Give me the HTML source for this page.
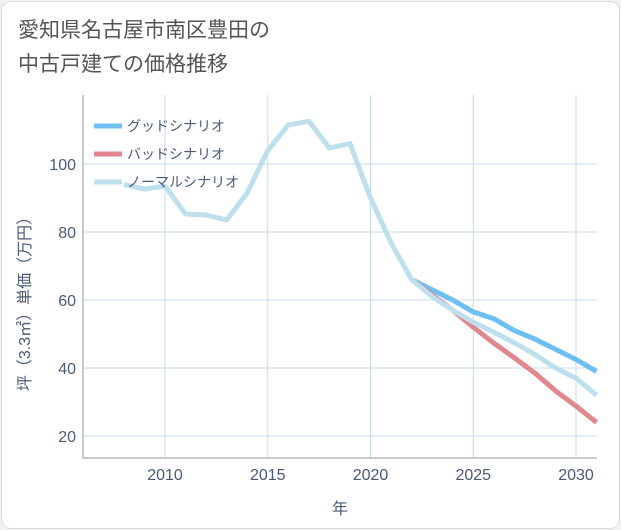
<!DOCTYPE html>
<html><head><meta charset="utf-8"><style>
html,body{margin:0;padding:0;background:#f2f2f2;}
body{width:621px;height:530px;overflow:hidden;font-family:"Liberation Sans","Noto Sans CJK JP",sans-serif;}
#card{position:absolute;left:1px;top:1px;width:617px;height:526px;background:#fff;border:1px solid #ddd;border-radius:10px;}
#title{position:absolute;left:18px;top:14px;font-size:21px;line-height:34px;color:#555;}
svg{position:absolute;left:0;top:0;}
</style></head><body>
<div id="card"></div>
<div id="title">愛知県名古屋市南区豊田の<br>中古戸建ての価格推移</div>
<svg id="chart" width="621" height="530"></svg>
<script>
const years=[2008,2009,2010,2011,2012,2013,2014,2015,2016,2017,2018,2019,2020,2021,2022,2023,2024,2025,2026,2027,2028,2029,2030,2031];
const normal=[94,92.6,93.5,85.3,85,83.5,91.5,104,111.5,112.6,104.7,106,90,76.8,66,61,57,53.5,50.5,47.4,44,40,37,32];
const futYears=[2022,2023,2024,2025,2026,2027,2028,2029,2030,2031];
const good=[66,63,60,56.5,54.5,51,48.5,45.5,42.5,39];
const bad=[66,61.5,57,52,47.3,43,38.5,33.3,28.8,24];
const xTicks=[2010,2015,2020,2025,2030];
const yTicks=[20,40,60,80,100];
const L=83,R=597,T=95,B=458;
const X=y=>165+(y-2010)*20.55;
const Y=v=>164+(100-v)*3.4;
const svg=document.getElementById('chart');
const NS='http://www.w3.org/2000/svg';
function mk(t,a){const e=document.createElementNS(NS,t);for(const k in a)e.setAttribute(k,a[k]);svg.appendChild(e);return e;}
xTicks.forEach(t=>{
 const g=mk('line',{x1:X(t),x2:X(t),y1:T,y2:B,stroke:'#c8dde8','stroke-width':1});
 
 
 const tx=mk('text',{x:X(t),y:480,'text-anchor':'middle','font-size':16,fill:'#4a5a75'});
 tx.textContent=t;
 
 
});
yTicks.forEach(t=>{
 const g=mk('line',{x1:L,x2:R,y1:Y(t),y2:Y(t),stroke:'#c8dde8','stroke-width':1});
 
 
 const tx=mk('text',{x:76,y:Y(t)+6,'text-anchor':'end','font-size':16,fill:'#4a5a75'});
 tx.textContent=t;
 
 
});
const ax=mk('path',{d:`M${L},${T}V${B}H${R}`,fill:'none',stroke:'#999','stroke-width':1});


function line(xs,vs,color,name){
 const p=mk('polyline',{points:xs.map((y,i)=>X(y)+','+Y(vs[i])).join(' '),fill:'none',stroke:color,'stroke-width':5,'stroke-linejoin':'round'});
 
 
}
line(futYears,good,'#6ebff2','good-scenario-line');
line(futYears,bad,'#e0878f','bad-scenario-line');
line(years,normal,'#bde0ec','normal-scenario-line');
const leg=[['グッドシナリオ','#6ebff2'],['バッドシナリオ','#e0878f'],['ノーマルシナリオ','#bde0ec']];
leg.forEach((l,i)=>{
 const y=126+i*28;
 const s=mk('line',{x1:94,x2:122,y1:y,y2:y,stroke:l[1],'stroke-width':5});
 
 
 const t=mk('text',{x:127,y:y+5,'font-size':14,fill:'#4a5a75'});
 t.textContent=l[0];
 
 
});
const xt=mk('text',{x:340,y:514,'text-anchor':'middle','font-size':16,fill:'#4a5a75'});
xt.textContent='年';


const yt=mk('text',{x:0,y:0,'text-anchor':'middle','font-size':16,fill:'#4a5a75',transform:'translate(30,300) rotate(-90)'});
yt.textContent='坪（3.3㎡）単価（万円）';


</script>
</body></html>
